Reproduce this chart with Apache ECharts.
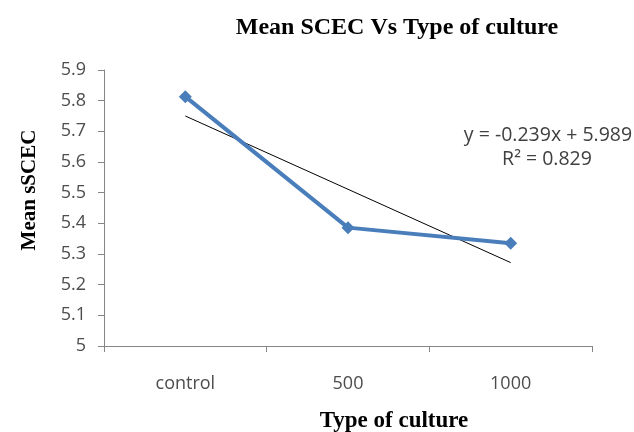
<!DOCTYPE html>
<html>
<head>
<meta charset="utf-8">
<script src="https://cdn.jsdelivr.net/npm/echarts@6/dist/echarts.min.js"></script>
<style>html,body{margin:0;padding:0;background:#fff;}#c{width:634px;height:432px;}</style>
</head>
<body>
<div id="c"></div>
<script>
var categories = ['control', '500', '1000'];
var meanValues = [5.813, 5.386, 5.335];
var trendValues = [5.750, 5.511, 5.272];
var yTicks = [5, 5.1, 5.2, 5.3, 5.4, 5.5, 5.6, 5.7, 5.8, 5.9];
var titleText = 'Mean SCEC Vs Type of culture';
var yName = 'Mean sSCEC';
var xName = 'Type of culture';
var eqLine1 = 'y = -0.239x + 5.989';
var eqLine2 = 'R² = 0.829';

var chart = echarts.init(document.getElementById('c'));
chart.setOption({
  animation: false,
  backgroundColor: '#fff',
  title: {
    text: titleText, left: 392, top: 11, textAlign: 'center',
    textStyle: {fontFamily: 'Liberation Serif', fontWeight: 'bold', fontSize: 24, color: '#000'}
  },
  grid: {left: 104, right: 42, top: 70, bottom: 86},
  xAxis: {
    type: 'category', data: categories, boundaryGap: true,
    axisLine: {lineStyle: {color: '#868686', width: 1}},
    axisTick: {show: true, length: 6, lineStyle: {color: '#868686'}},
    axisLabel: {fontFamily: 'Open Sans', fontSize: 18, color: '#4d4d4d', margin: 29}
  },
  yAxis: {
    type: 'value', min: 5, max: 5.9, interval: 0.1,
    axisLine: {show: true, lineStyle: {color: '#868686', width: 1}},
    axisTick: {show: true, length: 6, lineStyle: {color: '#868686'}},
    splitLine: {show: false},
    axisLabel: {fontFamily: 'Open Sans', fontSize: 18, color: '#4d4d4d', margin: 18,
      formatter: function (v) { return String(Math.round(v * 10) / 10); }}
  },
  graphic: [
    {type: 'text', x: 30, y: 190, rotation: Math.PI / 2, style: {
      text: yName, x: 0, y: 0, textAlign: 'center', textVerticalAlign: 'middle',
      font: 'bold 21px "Liberation Serif"', fill: '#000'}},
    {type: 'text', x: 394, y: 421, style: {
      text: xName, textAlign: 'center', textVerticalAlign: 'middle',
      font: 'bold 23px "Liberation Serif"', fill: '#000'}},
    {type: 'text', x: 548, y: 135, style: {
      text: eqLine1, textAlign: 'center', textVerticalAlign: 'middle',
      font: '19.5px "Open Sans"', fill: '#404040'}},
    {type: 'text', x: 547, y: 159, style: {
      text: eqLine2, textAlign: 'center', textVerticalAlign: 'middle',
      font: '19.5px "Open Sans"', fill: '#404040'}}
  ],
  series: [
    {
      type: 'line', data: trendValues, symbol: 'none', z: 1,
      lineStyle: {color: '#000', width: 1}
    },
    {
      type: 'line', data: meanValues, symbol: 'diamond', symbolSize: 13, z: 2,
      lineStyle: {color: '#4a7ebb', width: 4},
      itemStyle: {color: '#4a7ebb'}
    }
  ]
});
</script>
</body>
</html>
